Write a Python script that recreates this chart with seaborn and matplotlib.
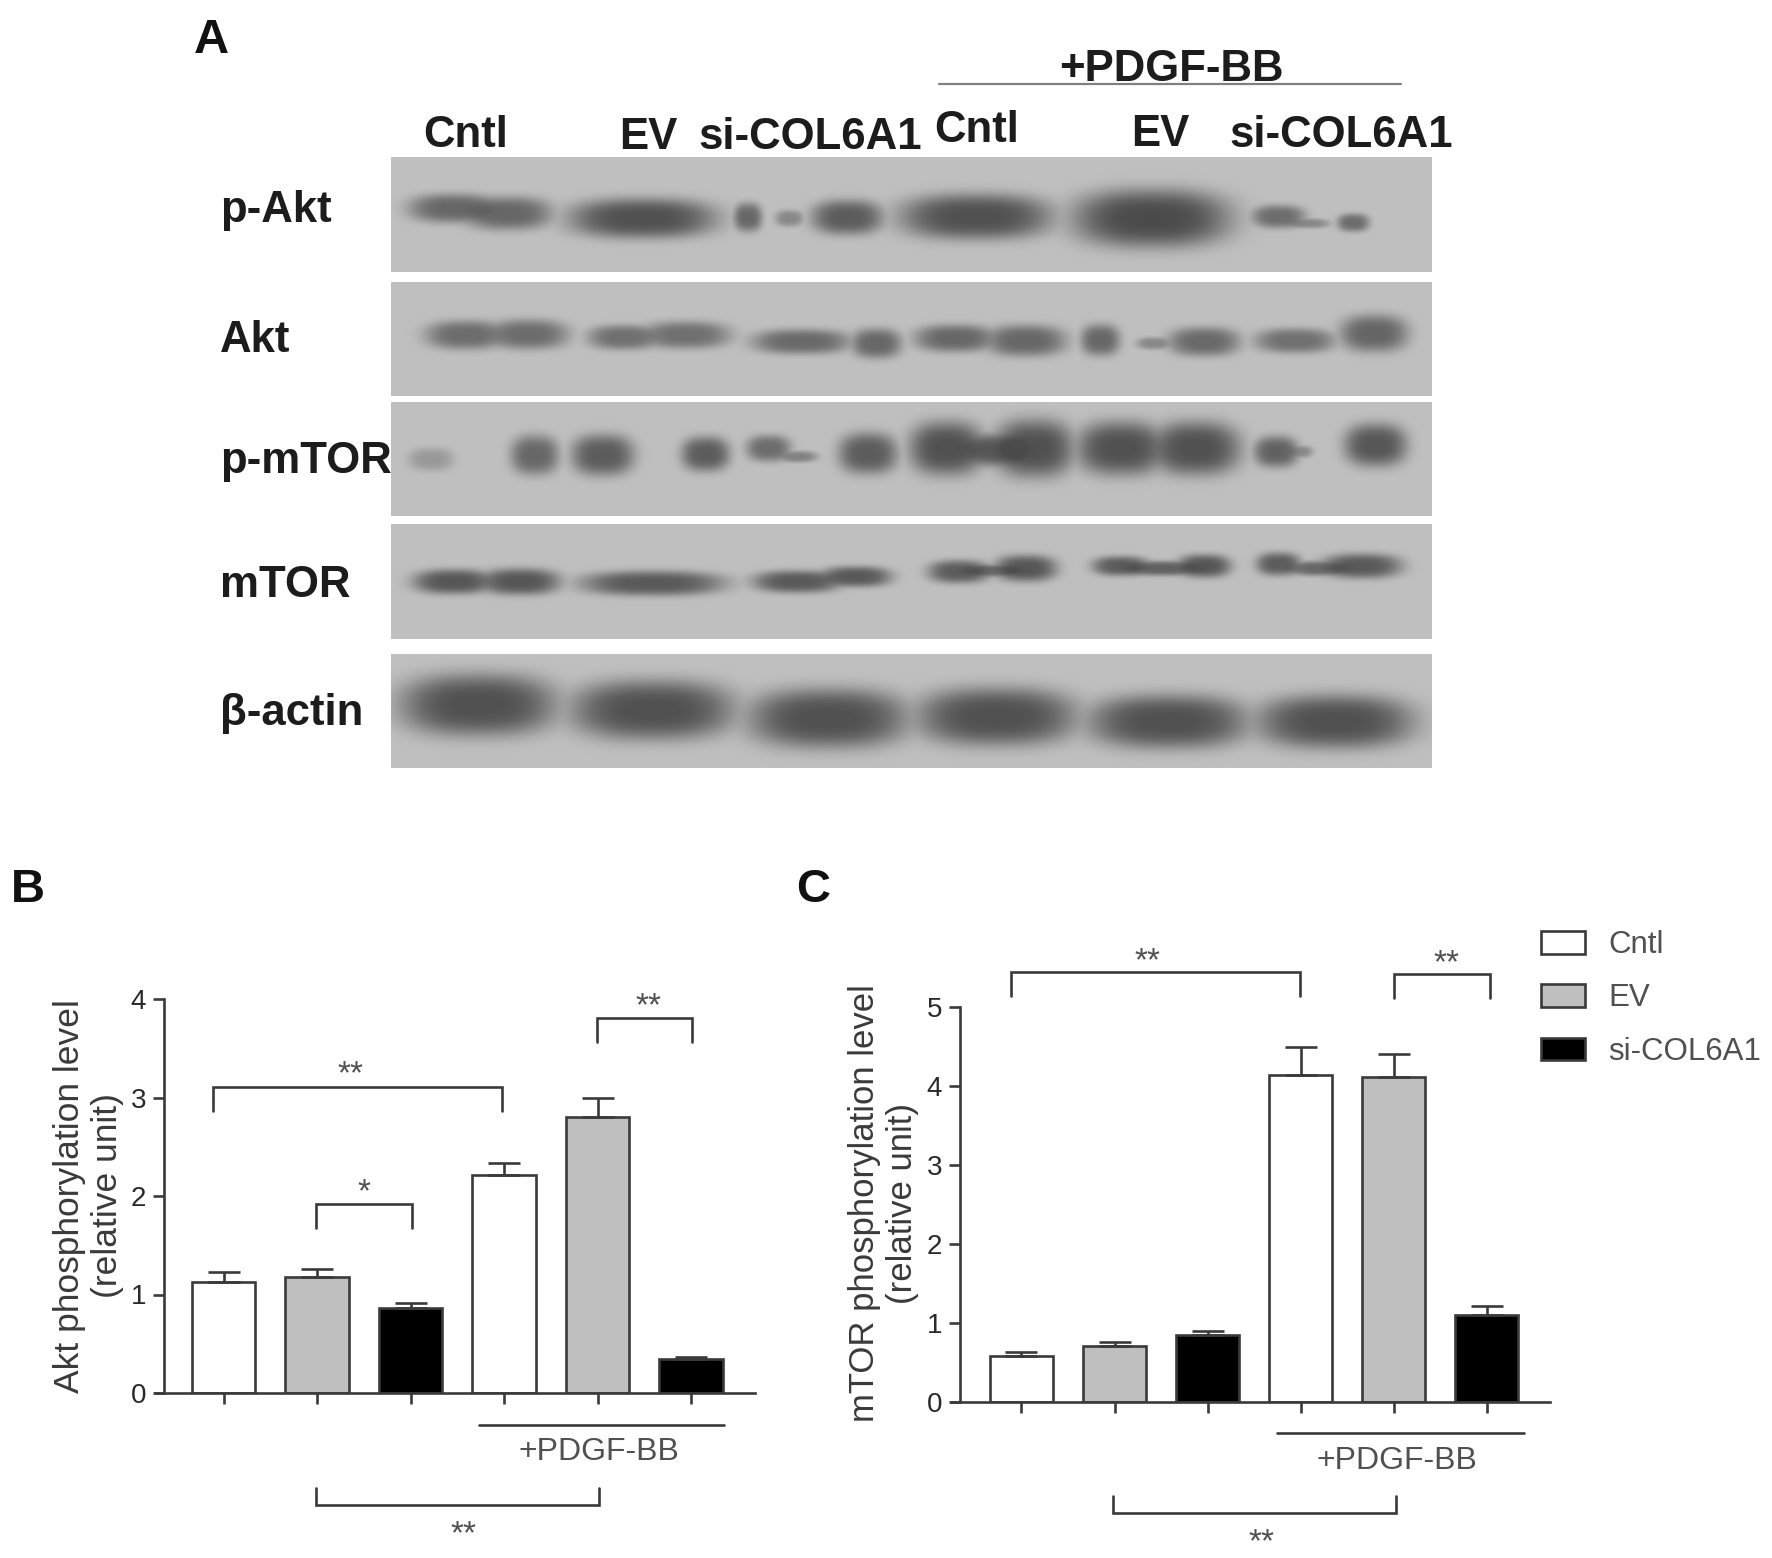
import numpy as np
import pandas as pd
import seaborn as sns
import matplotlib.pyplot as plt
from matplotlib.patches import Patch

# --- DATA ---
conditions = ["Cntl", "EV", "si-COL6A1", "Cntl+PDGF", "EV+PDGF", "si-COL6A1+PDGF"]
groups = ["Cntl", "EV", "si-COL6A1", "Cntl", "EV", "si-COL6A1"]
akt_values = [1.13, 1.18, 0.86, 2.21, 2.80, 0.345]
akt_err_top = [1.225, 1.26, 0.913, 2.33, 2.994, 0.368]
mtor_values = [0.58, 0.71, 0.843, 4.14, 4.12, 1.105]
mtor_err_top = [0.628, 0.76, 0.90, 4.49, 4.40, 1.215]
akt_ticks = [0, 1, 2, 3, 4]
mtor_ticks = [0, 1, 2, 3, 4, 5]
palette = {"Cntl": "white", "EV": "#bfbfbf", "si-COL6A1": "black"}

blot_top_labels = ["Cntl", "EV", "si-COL6A1", "Cntl", "EV", "si-COL6A1"]
blot_row_labels = ["p-Akt", "Akt", "p-mTOR", "mTOR", "β-actin"]

# band blobs: x, y, half width, half height, darkness
p_akt_bands = [(330, 625, 50, 35, .8), (395, 640, 50, 40, .8), (558, 655, 82, 48, 1.0),
               (685, 652, 16, 35, .8), (735, 655, 16, 20, .5), (805, 652, 40, 42, .9),
               (960, 650, 85, 55, 1.0), (1172, 655, 88, 70, 1.05),
               (1325, 650, 30, 28, .75), (1360, 670, 25, 12, .5), (1415, 668, 18, 22, .75)]
akt_bands = [(345, 1005, 45, 35, .75), (420, 1003, 45, 36, .75),
             (535, 1012, 40, 30, .72), (610, 1005, 50, 33, .72),
             (750, 1025, 55, 30, .78), (840, 1030, 28, 36, .8),
             (935, 1015, 45, 33, .8), (1020, 1022, 45, 38, .8),
             (1110, 1020, 22, 38, .8), (1175, 1030, 20, 15, .5), (1235, 1025, 40, 35, .78),
             (1345, 1022, 45, 30, .72), (1440, 1000, 38, 45, .82)]
p_mtor_bands = [(303, 178, 25, 28, .35), (428, 165, 27, 48, .8), (510, 165, 35, 50, .9),
                (634, 162, 27, 42, .9), (710, 145, 25, 32, .75), (745, 170, 22, 14, .55),
                (830, 160, 33, 50, .9), (925, 145, 42, 65, 1.), (1030, 145, 45, 70, 1.),
                (985, 150, 40, 40, .95), (1135, 145, 50, 65, 1.), (1225, 145, 50, 65, 1.),
                (1322, 155, 25, 38, .85), (1350, 155, 15, 15, .5), (1442, 135, 35, 52, .95)]
mtor_bands = [(330, 545, 45, 30, .95), (410, 545, 45, 32, .95), (570, 550, 80, 30, .92),
              (745, 545, 50, 27, .92), (815, 530, 40, 25, .92),
              (940, 515, 35, 28, .9), (1020, 505, 35, 32, .95), (980, 512, 40, 15, .8),
              (1135, 498, 32, 24, .9), (1235, 498, 30, 28, .95), (1185, 505, 50, 18, .85),
              (1325, 492, 25, 28, .9), (1425, 498, 45, 30, .92), (1375, 505, 40, 18, .8)]
actin_bands = [(360, 915, 88, 75, 1.), (570, 930, 92, 72, 1.), (782, 955, 90, 72, 1.),
               (985, 950, 90, 70, 1.), (1192, 965, 90, 65, 1.), (1393, 965, 88, 65, 1.)]
blot_rows = [(157, 272, p_akt_bands, 0), (282, 396, akt_bands, 0), (402, 516, p_mtor_bands, 400),
             (524, 639, mtor_bands, 400), (654, 768, actin_bands, 400)]

W, H = 1772, 1558
DPI = 100
TEXT_DARK = "#1c1c1c"
TEXT_GREY = "#505050"
LINE = "#3a3a3a"
LW = 1.9


def px_axes(left, right, top, bottom):
    return fig.add_axes([left / W, 1 - bottom / H, (right - left) / W, (bottom - top) / H])


# --- SETUP ---
sns.set_style("ticks")
plt.rcParams["font.family"] = ["Liberation Sans", "DejaVu Sans"]
fig = plt.figure(figsize=(W / DPI, H / DPI), dpi=DPI)

# overlay in pixel coordinates for the blot and the annotations
ov = fig.add_axes([0, 0, 1, 1], zorder=5)
ov.patch.set_alpha(0)

# --- PANEL A: BLOT ---
x0, x1, y0, y1 = 391, 1432, 150, 775
xx, yy = np.meshgrid(np.arange(x0, x1) + .5, np.arange(y0, y1) + .5)
blot = np.full(xx.shape, 255.0)
for top, bottom, bands, offset in blot_rows:
    mask = (yy >= top) & (yy < bottom)
    strength = np.zeros(xx.shape)
    for bx, by, bw, bh, dark in bands:
        # band positions were read from 1.206x / 3x crops
        cx = 180 + bx / 1.206
        cy = offset + by / 3
        r = np.abs((xx - cx) / (1.08 * bw / 1.206)) ** 2.6 + np.abs((yy - cy) / (1.24 * bh / 3)) ** 2.3
        strength += (dark * np.exp(-r ** 1.5)) ** 3
    strength = np.minimum(strength ** (1 / 3), 1.05)
    blot[mask] = (191 - 110 * strength)[mask]
ov.imshow(blot, cmap="gray", vmin=0, vmax=255, extent=[x0, x1, y1, y0], aspect="auto", interpolation="bilinear")

blot_font = dict(fontsize=31.5, fontweight="bold", color=TEXT_DARK, va="baseline")
for label, lx, ly in zip(blot_top_labels, [423, 619, 698, 934, 1131, 1229], [147, 149, 149, 142, 146, 147]):
    ov.text(lx, ly, label, **blot_font)
for label, ly in zip(blot_row_labels, [222, 352, 473, 597, 725]):
    ov.text(220, ly, label, **blot_font)
ov.text(1171, 81, "+PDGF-BB", ha="center", **blot_font)
ov.plot([939, 1401], [84, 84], color="#808080", lw=1.6)

ov.text(194, 53, "A", fontsize=35, fontweight="bold", color="#111111", va="baseline")
ov.text(11, 902, "B", fontsize=34, fontweight="bold", color="#111111", va="baseline")
ov.text(796, 902, "C", fontsize=34, fontweight="bold", color="#111111", va="baseline")


def bracket(x_a, x_b, y_flat, y_end):
    ov.plot([x_a, x_a, x_b, x_b], [y_end, y_flat, y_flat, y_end], color=LINE, lw=LW, solid_joinstyle="miter")


def stars(x, y, s):
    ov.text(x, y, s, ha="center", va="center_baseline", fontsize=24, color=TEXT_GREY)


# --- PANELS B AND C ---
def bar_panel(ax, values, err_top, ticks, ylabel, label_x, label_y, label_size):
    df = pd.DataFrame({"condition": conditions, "group": groups, "value": values})
    sns.barplot(data=df, x="condition", y="value", hue="group", order=conditions, palette=palette,
                dodge=False, width=0.68, edgecolor=LINE, linewidth=LW, legend=False, ax=ax)
    positions = np.arange(len(values))
    up = np.array(err_top) - np.array(values)
    ax.errorbar(positions, values, yerr=[np.zeros(len(up)), up], fmt="none", ecolor=LINE,
                elinewidth=LW, capsize=11.5, capthick=LW, zorder=1)
    ax.set_ylim(ticks[0], ticks[-1])
    ax.set_yticks(ticks)
    ax.set_xticks(positions)
    ax.set_xticklabels([])
    ax.set_xlabel("")
    ax.set_ylabel(ylabel, fontsize=label_size, color="#3a3a3a", linespacing=1.2)
    ax.yaxis.set_label_coords(label_x, label_y)
    ax.tick_params(axis="both", length=8, width=LW, color=LINE, labelsize=20, labelcolor="#2a2a2a", pad=5)
    for side in ["top", "right"]:
        ax.spines[side].set_visible(False)
    for side in ["left", "bottom"]:
        ax.spines[side].set_linewidth(LW)
        ax.spines[side].set_color(LINE)


ax_b = px_axes(164, 755, 999, 1393)
bar_panel(ax_b, akt_values, akt_err_top, akt_ticks, "Akt phosphorylation level\n(relative unit)", -0.068, 0.50, 25.5)
ax_b.set_xlim(-0.638, 5.684)
ax_b.spines["bottom"].set_bounds(-0.735, 5.684)

ax_c = px_axes(960, 1550, 1007, 1402)
bar_panel(ax_c, mtor_values, mtor_err_top, mtor_ticks, "mTOR phosphorylation level\n(relative unit)", -0.069, 0.503, 25)
ax_c.set_xlim(-0.66, 5.679)
ax_c.spines["bottom"].set_bounds(-0.755, 5.679)

# legend
handles = [Patch(facecolor=palette[g], edgecolor=LINE, linewidth=LW, label=g) for g in blot_top_labels[:3]]
leg = ax_c.legend(handles=handles, loc="upper left", bbox_to_anchor=(1541 / W, 1 - 930 / H),
                  bbox_transform=fig.transFigure, frameon=False, fontsize=22.5, handlelength=1.41,
                  handleheight=0.75, handletextpad=0.75, labelspacing=0.75, borderpad=0, borderaxespad=0)
for t in leg.get_texts():
    t.set_color(TEXT_GREY)

# annotations B
bracket(213.5, 502, 1087, 1111)
stars(350, 1071, "**")
bracket(597, 692, 1018, 1042)
stars(648, 1003, "**")
bracket(316.5, 412.5, 1204, 1228)
stars(364, 1189, "*")
ov.plot([479, 724.5], [1425, 1425], color=LINE, lw=LW)
ov.text(599, 1460, "+PDGF-BB", ha="center", va="baseline", fontsize=23, color=TEXT_GREY)
bracket(316.5, 599, 1505, 1488)
stars(463, 1531, "**")

# annotations C
bracket(1011, 1300, 972, 996)
stars(1147, 958, "**")
bracket(1394, 1490, 974, 998)
stars(1446, 960, "**")
ov.plot([1277, 1524], [1433, 1433], color=LINE, lw=LW)
ov.text(1397, 1469, "+PDGF-BB", ha="center", va="baseline", fontsize=23, color=TEXT_GREY)
bracket(1113, 1396, 1513, 1496)
stars(1261, 1539, "**")

ov.set_xlim(0, W)
ov.set_ylim(H, 0)
ov.axis("off")

fig.savefig("out.png", dpi=DPI, facecolor="white")
